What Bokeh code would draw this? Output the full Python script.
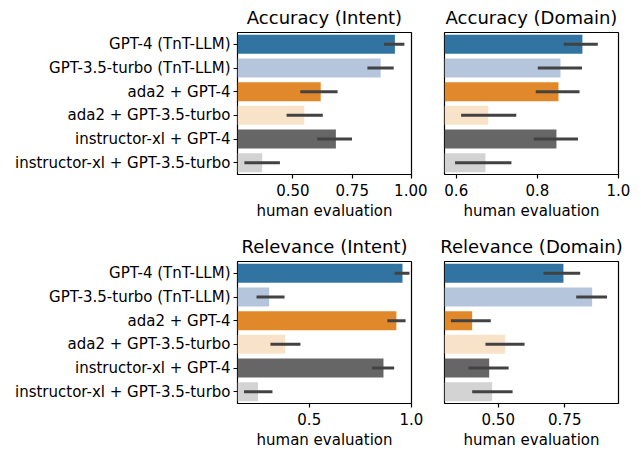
from bokeh.plotting import figure
from bokeh.layouts import column, row
from bokeh.models import FactorRange, FixedTicker, ColumnDataSource, Range1d
from bokeh.embed import file_html
from bokeh.resources import INLINE

methods = ["GPT-4 (TnT-LLM)", "GPT-3.5-turbo (TnT-LLM)", "ada2 + GPT-4",
           "ada2 + GPT-3.5-turbo", "instructor-xl + GPT-4", "instructor-xl + GPT-3.5-turbo"]
colors = ["#3274a1", "#b5c6dc", "#e1882a", "#f8e3c9", "#666666", "#d3d3d3"]

acc_intent = [0.930, 0.870, 0.617, 0.548, 0.681, 0.370]
acc_intent_lo = [0.884, 0.814, 0.531, 0.473, 0.602, 0.295]
acc_intent_hi = [0.970, 0.925, 0.688, 0.626, 0.749, 0.445]

acc_domain = [0.911, 0.857, 0.852, 0.679, 0.847, 0.672]
acc_domain_lo = [0.865, 0.801, 0.796, 0.612, 0.791, 0.597]
acc_domain_hi = [0.949, 0.910, 0.904, 0.748, 0.900, 0.736]

rel_intent = [0.956, 0.304, 0.926, 0.382, 0.863, 0.249]
rel_intent_lo = [0.917, 0.242, 0.882, 0.310, 0.807, 0.181]
rel_intent_hi = [0.990, 0.379, 0.971, 0.457, 0.915, 0.320]

rel_domain = [0.745, 0.853, 0.402, 0.526, 0.466, 0.477]
rel_domain_lo = [0.670, 0.793, 0.322, 0.452, 0.388, 0.402]
rel_domain_hi = [0.808, 0.909, 0.472, 0.599, 0.539, 0.554]

FONT = "DejaVu Sans"


def panel(title, vals, lo, hi, xr, ticks, labels, show_y, mbl, mbr, mbt, mbb):
    p = figure(y_range=FactorRange(factors=list(reversed(methods))),
               x_range=Range1d(*xr), frame_width=174, frame_height=142,
               output_backend="svg", toolbar_location=None,
               min_border_left=mbl, min_border_right=mbr,
               min_border_top=mbt, min_border_bottom=mbb)
    src = ColumnDataSource(dict(m=methods, v=vals, lo=lo, hi=hi, c=colors))
    p.hbar(y="m", left=0, right="v", height=0.8, fill_color="c", line_color=None, source=src)
    p.segment(x0="lo", x1="hi", y0="m", y1="m", line_color="#424242", line_width=3,
              line_cap="butt", source=src)
    p.title.text = title
    p.title.text_font = FONT
    p.title.text_font_size = "18px"
    p.title.text_font_style = "normal"
    p.title.align = "center"
    p.title.text_color = "black"
    p.title.standoff = 9
    p.xgrid.visible = False
    p.ygrid.visible = False
    p.outline_line_color = "black"
    p.outline_line_width = 1.2
    p.outline_line_alpha = 1
    p.background_fill_color = "white"
    p.border_fill_color = "white"
    xa = p.xaxis[0]
    xa.ticker = FixedTicker(ticks=ticks)
    xa.major_label_overrides = {t: l for t, l in zip(ticks, labels)}
    xa.minor_tick_line_color = None
    xa.axis_line_color = None
    xa.major_tick_out = 4
    xa.major_tick_in = 0
    xa.major_tick_line_width = 1.2
    xa.major_label_text_font = FONT
    xa.major_label_text_font_size = "15px"
    xa.major_label_text_color = "black"
    xa.axis_label = "human evaluation"
    xa.axis_label_text_font = FONT
    xa.axis_label_text_font_size = "15px"
    xa.axis_label_text_font_style = "normal"
    xa.axis_label_text_color = "black"
    xa.axis_label_standoff = 3
    xa.major_label_standoff = 5
    ya = p.yaxis[0]
    if show_y:
        ya.axis_line_color = None
        ya.major_tick_out = 4
        ya.major_tick_in = 0
        ya.major_tick_line_width = 1.2
        ya.major_label_text_font = FONT
        ya.major_label_text_font_size = "15px"
        ya.major_label_text_color = "black"
        ya.major_label_standoff = 3
    else:
        ya.visible = False
    return p


p1 = panel("Accuracy (Intent)", acc_intent, acc_intent_lo, acc_intent_hi,
           (0.266, 1.0), [0.5, 0.75, 1.0], ["0.50", "0.75", "1.00"], True, 237, 16, 32, 55)
p2 = panel("Accuracy (Domain)", acc_domain, acc_domain_lo, acc_domain_hi,
           (0.571, 1.0), [0.6, 0.8, 1.0], ["0.6", "0.8", "1.0"], False, 17, 15, 32, 55)
p3 = panel("Relevance (Intent)", rel_intent, rel_intent_lo, rel_intent_hi,
           (0.149, 1.0), [0.5, 1.0], ["0.5", "1.0"], True, 237, 16, 32, 46)
p4 = panel("Relevance (Domain)", rel_domain, rel_domain_lo, rel_domain_hi,
           (0.298, 0.952), [0.5, 0.75], ["0.50", "0.75"], False, 17, 15, 32, 46)

layout = column(row(p1, p2, spacing=0), row(p3, p4, spacing=0), spacing=0)
open("out.html", "w").write(file_html(layout, INLINE))
